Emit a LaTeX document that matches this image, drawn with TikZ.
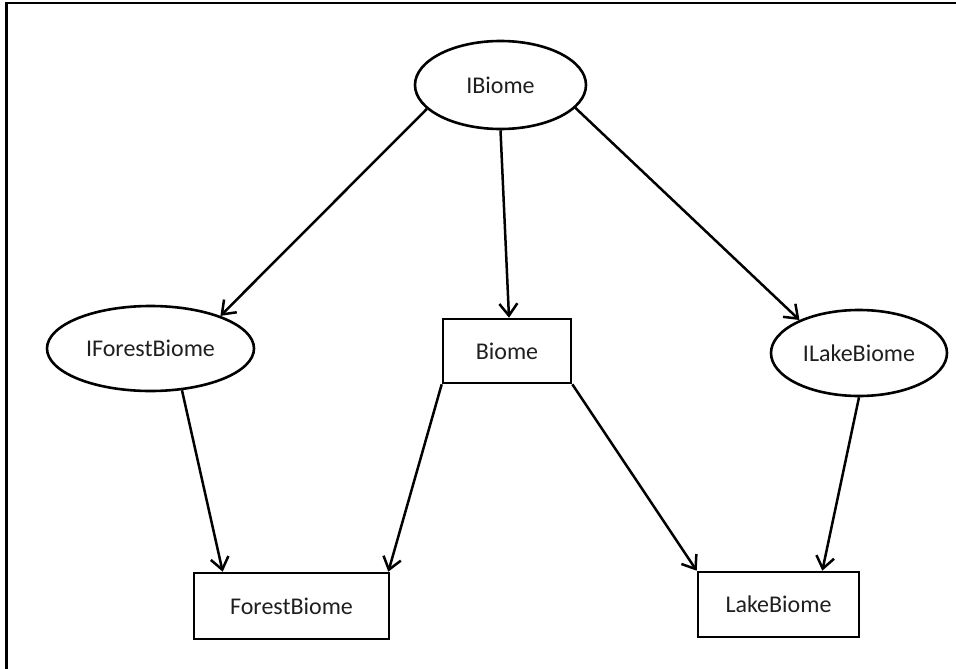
\documentclass[tikz,border=0pt]{standalone}
\usepackage{fontspec}
\setmainfont{Carlito}
\usetikzlibrary{shapes.geometric,arrows.meta}
\begin{document}
\begin{tikzpicture}[x=1pt,y=-1pt,
  every node/.style={font=\fontsize{24}{28}\selectfont, text=black!88, inner sep=0pt},
  iface/.style={ellipse, draw, line width=2.6pt},
  cls/.style={rectangle, draw, line width=2.6pt},
  link/.style={line width=2.5pt, -{Straight Barb[length=12pt,width=18pt,line width=2.5pt]}}]
  \useasboundingbox (0,0) rectangle (956,669);

  % frame along the top and left edges
  \coordinate (frameBL) at (6.5,669);
  \coordinate (frameTL) at (6.5,3);
  \coordinate (frameTR) at (956,3);
  \draw[line width=2.6pt] (frameBL) -- (frameTL) -- (frameTR);

  % interfaces
  \node[iface, minimum width=171pt, minimum height=88pt] (ibiome) at (500.5,85) {IBiome};
  \node[iface, minimum width=207pt, minimum height=85pt] (iforest) at (150.5,348.5) {IForestBiome};
  \node[iface, minimum width=176pt, minimum height=86pt] (ilake) at (859,353) {ILakeBiome};

  % classes
  \node[cls, minimum width=128pt, minimum height=64pt] (biome) at (507,351) {Biome};
  \node[cls, minimum width=195pt, minimum height=66pt] (forest) at (291.5,606) {ForestBiome};
  \node[cls, minimum width=161pt, minimum height=65pt] (lake) at (778.5,604.5) {LakeBiome};

  % relations
  \draw[link] (ibiome.198) -- (iforest.25);
  \draw[link] (ibiome.south) -- ([xshift=2pt]biome.north);
  \draw[link] (ibiome.343) -- (ilake.151);
  \draw[link] (iforest.307) -- ([xshift=30pt]forest.north west);
  \draw[link] (biome.south west) -- ([xshift=-2pt]forest.north east);
  \draw[link] (biome.south east) -- (lake.north west);
  \draw[link] (ilake.south) -- ([xshift=-38pt]lake.north east);
\end{tikzpicture}
\end{document}
